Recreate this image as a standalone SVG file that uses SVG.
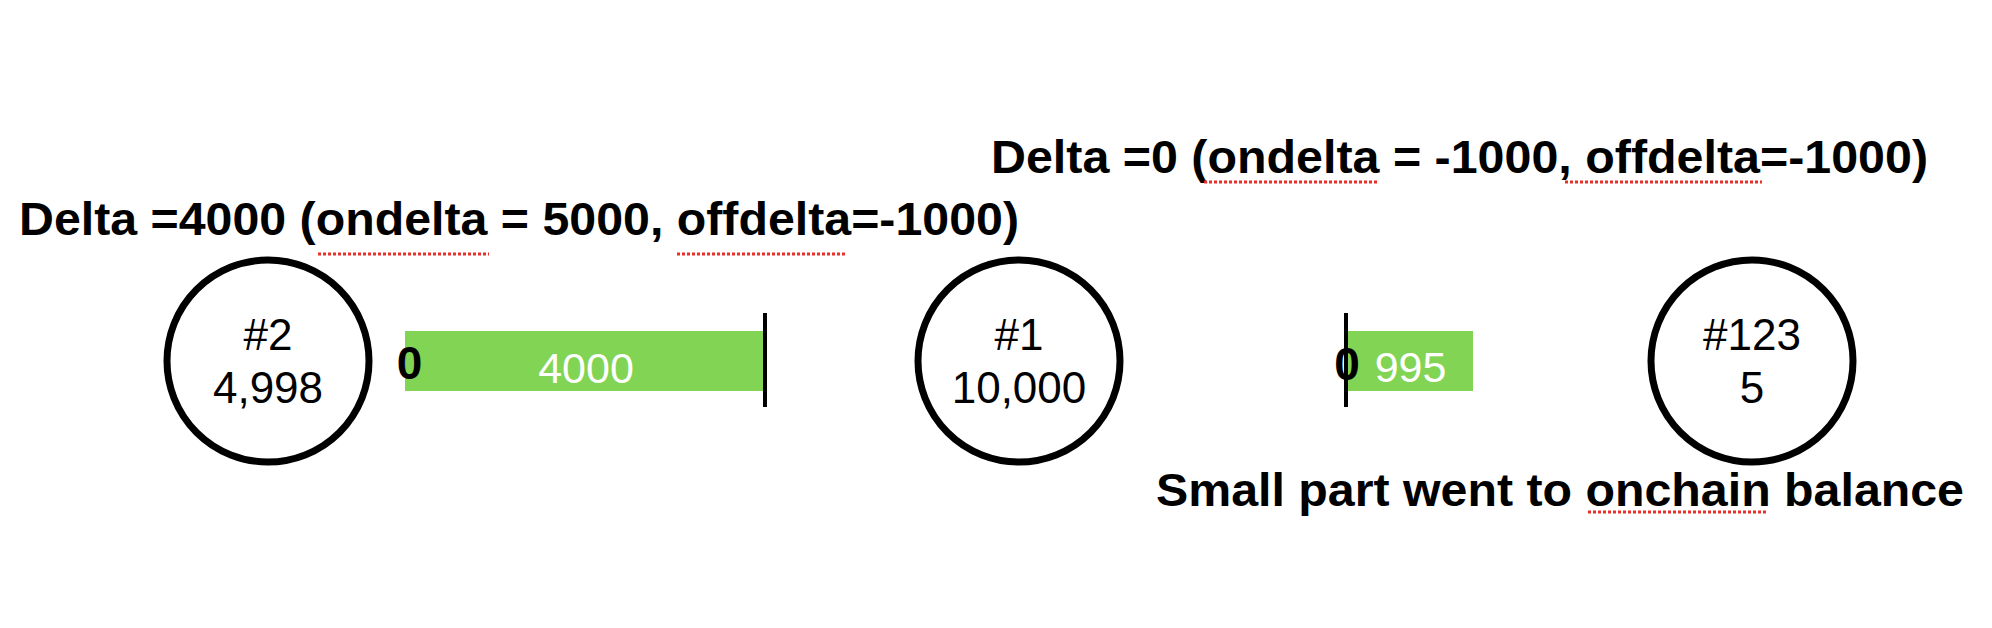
<svg xmlns="http://www.w3.org/2000/svg" width="1992" height="628" viewBox="0 0 1992 628">
<style>
.node{fill:#fff;stroke:#000;stroke-width:7}
.lbl{font-family:"Liberation Sans",Arial,sans-serif;font-size:44px;fill:#000;text-anchor:middle}
.title{font-family:"Liberation Sans",Arial,sans-serif;font-size:46px;font-weight:bold;fill:#000}
.bar{fill:#82d455}
.tick{stroke:#000;stroke-width:4}
.zero{font-family:"Liberation Sans",Arial,sans-serif;font-size:46px;font-weight:bold;fill:#000;text-anchor:middle}
.val{font-family:"Liberation Sans",Arial,sans-serif;font-size:43px;fill:#fff;text-anchor:middle}
.spell{stroke:#e8302a;stroke-width:3;stroke-dasharray:3 2;fill:none}
</style>
<rect width="1992" height="628" fill="#fff"/>
<text class="title" x="19" y="235" textLength="1000" lengthAdjust="spacingAndGlyphs">Delta =4000 (ondelta = 5000, offdelta=-1000)</text>
<text class="title" x="991" y="173" textLength="937" lengthAdjust="spacingAndGlyphs">Delta =0 (ondelta = -1000, offdelta=-1000)</text>
<text class="title" x="1156" y="506" textLength="808" lengthAdjust="spacingAndGlyphs">Small part went to onchain balance</text>
<g id="spellmarks">
<line class="spell" x1="318" y1="254" x2="489" y2="254"/>
<line class="spell" x1="677" y1="254" x2="845" y2="254"/>
<line class="spell" x1="1204" y1="182" x2="1378" y2="182"/>
<line class="spell" x1="1565" y1="182" x2="1762" y2="182"/>
<line class="spell" x1="1588" y1="512" x2="1768" y2="512"/>
</g>
<g id="node2">
<circle class="node" cx="268" cy="361" r="101"/>
<text class="lbl" x="268" y="350">#2</text>
<text class="lbl" x="268" y="403">4,998</text>
</g>
<g id="node1">
<circle class="node" cx="1019" cy="361" r="101"/>
<text class="lbl" x="1019" y="350">#1</text>
<text class="lbl" x="1019" y="403">10,000</text>
</g>
<g id="node123">
<circle class="node" cx="1752" cy="361" r="101"/>
<text class="lbl" x="1752" y="350">#123</text>
<text class="lbl" x="1752" y="403">5</text>
</g>
<g id="connectors">
<g id="bar1">
<rect class="bar" x="405" y="331" width="360" height="60"/>
<line class="tick" x1="765" y1="313" x2="765" y2="407"/>
<text class="zero" x="409.5" y="379">0</text>
<text class="val" x="586" y="383">4000</text>
</g>
<g id="bar2">
<rect class="bar" x="1348" y="331" width="125" height="60"/>
<line class="tick" x1="1346" y1="313" x2="1346" y2="407"/>
<text class="zero" x="1347" y="380">0</text>
<text class="val" x="1410.5" y="382">995</text>
</g>
</g>
</svg>
